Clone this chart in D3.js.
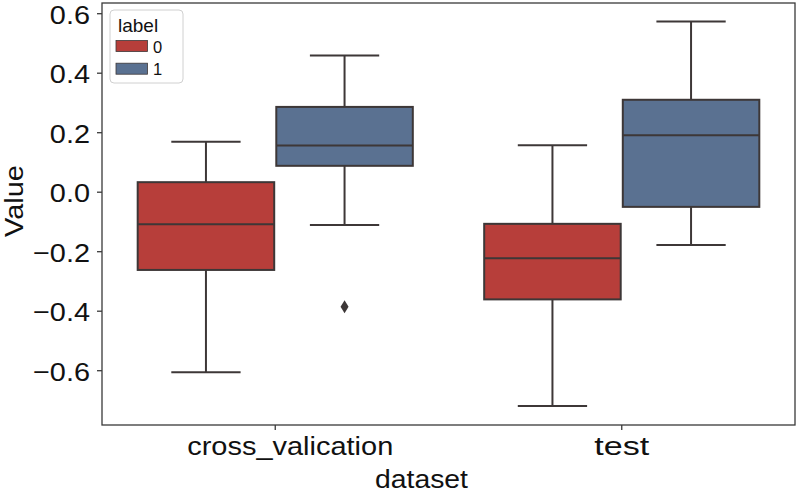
<!DOCTYPE html>
<html><head><meta charset="utf-8">
<script src="https://cdn.jsdelivr.net/npm/d3@7"></script>
<style>body{margin:0;background:#fff}svg{display:block}text{font-family:"Liberation Sans",Arial,Helvetica,sans-serif;fill:#111}</style>
</head><body><svg id="c" width="798" height="496"></svg>
<script>
const categories = ["cross_valication", "test"];
const labels = ["0", "1"];
// box statistics per [category][label]
const whiskerLow = [[-0.607, -0.112], [-0.720, -0.179]];
const q1        = [[-0.263,  0.087], [-0.362, -0.051]];
const median    = [[-0.109,  0.155], [-0.224,  0.190]];
const q3        = [[ 0.032,  0.285], [-0.108,  0.309]];
const whiskerHigh=[[ 0.168,  0.458], [ 0.156,  0.572]];
const outliers  = [[[], [-0.387]], [[], []]];
const yTicks = [-0.6, -0.4, -0.2, 0.0, 0.2, 0.4, 0.6];
const colors = ["#b73e3a", "#5a7191"];

const svg = d3.select("#c");
const L = 102, R = 795, T = 3, B = 425;
const x = d3.scaleBand().domain(categories).range([L, R]);
const xh = d3.scaleBand().domain(labels).range([0, x.bandwidth() * 0.8]);
const y = d3.scaleLinear().domain([-0.7842, 0.6343]).range([B, T]);
const lineC = "#3d3737";

const boxes = [];
categories.forEach((c, i) => labels.forEach((l, j) => boxes.push({c, l, i, j})));

const g = svg.append("g");
boxes.forEach(b => {
  const x0 = x(b.c) + x.bandwidth() * 0.1 + xh(b.l);
  const w = xh.bandwidth();
  const cx = x0 + w / 2;
  const bw = w * 0.985;
  const bx = cx - bw / 2;
  const i = b.i, j = b.j;
  g.append("line").attr("x1", cx).attr("x2", cx).attr("y1", y(whiskerHigh[i][j])).attr("y2", y(q3[i][j]))
    .attr("stroke", lineC).attr("stroke-width", 2);
  g.append("line").attr("x1", cx).attr("x2", cx).attr("y1", y(q1[i][j])).attr("y2", y(whiskerLow[i][j]))
    .attr("stroke", lineC).attr("stroke-width", 2);
  [whiskerHigh[i][j], whiskerLow[i][j]].forEach(v => {
    g.append("line").attr("x1", cx - w / 4).attr("x2", cx + w / 4).attr("y1", y(v)).attr("y2", y(v))
      .attr("stroke", lineC).attr("stroke-width", 2);
  });
  g.append("rect").attr("x", bx).attr("width", bw).attr("y", y(q3[i][j])).attr("height", y(q1[i][j]) - y(q3[i][j]))
    .attr("fill", colors[j]).attr("stroke", lineC).attr("stroke-width", 2);
  g.append("line").attr("x1", bx).attr("x2", bx + bw).attr("y1", y(median[i][j])).attr("y2", y(median[i][j]))
    .attr("stroke", lineC).attr("stroke-width", 2);
  outliers[i][j].forEach(v => {
    const yy = y(v);
    g.append("path").attr("d", `M${cx},${yy - 6.5}L${cx + 4},${yy}L${cx},${yy + 6.5}L${cx - 4},${yy}Z`)
      .attr("fill", lineC);
  });
});

svg.append("rect").attr("x", L).attr("y", T).attr("width", R - L).attr("height", B - T)
  .attr("fill", "none").attr("stroke", "#3a3a3a").attr("stroke-width", 1.3);

function widen(sel, f) {
  sel.each(function() {
    const w = this.getComputedTextLength();
    d3.select(this).attr("textLength", w * f).attr("lengthAdjust", "spacingAndGlyphs");
  });
}

const yAxis = svg.append("g").attr("transform", `translate(${L},0)`)
  .call(d3.axisLeft(y).tickValues(yTicks).tickSize(5).tickPadding(7).tickFormat(d => d3.format(".1f")(d).replace("-", "\u2212")));
yAxis.select(".domain").remove();
yAxis.selectAll("line").attr("stroke", "#3a3a3a").attr("stroke-width", 1.3);
yAxis.selectAll("text").attr("font-size", 26.5).attr("fill", "#111").attr("dy", "0.38em");
widen(yAxis.selectAll("text"), 1.09);

const xAxis = svg.append("g").attr("transform", `translate(0,${B})`)
  .call(d3.axisBottom(x).tickSize(5).tickPadding(6));
xAxis.select(".domain").remove();
xAxis.selectAll("line").attr("stroke", "#3a3a3a").attr("stroke-width", 1.3);
const xTickWidths = {"cross_valication": 206, "test": 55};
const xTickShift = {"cross_valication": 15, "test": 0};
xAxis.selectAll("text").attr("font-size", 26.5).attr("fill", "#111")
  .attr("dx", d => xTickShift[d]).attr("textLength", d => xTickWidths[d]).attr("lengthAdjust", "spacingAndGlyphs");

svg.append("text").attr("x", 421.5).attr("y", 488).attr("text-anchor", "middle").attr("font-size", 26.5)
  .attr("textLength", 93).attr("lengthAdjust", "spacingAndGlyphs").text("dataset");
svg.append("text").attr("transform", "translate(23,201) rotate(-90)").attr("text-anchor", "middle").attr("font-size", 26.5)
  .attr("textLength", 72).attr("lengthAdjust", "spacingAndGlyphs").text("Value");

const lg = svg.append("g");
lg.append("rect").attr("x", 110).attr("y", 10).attr("width", 73).attr("height", 73).attr("rx", 4)
  .attr("fill", "#fff").attr("fill-opacity", 0.85).attr("stroke", "#d0d0d0").attr("stroke-width", 1);
lg.append("text").attr("x", 118).attr("y", 31.5).attr("font-size", 19).text("label");
labels.forEach((l, j) => {
  const yy = 40.5 + j * 22.7;
  lg.append("rect").attr("x", 116).attr("y", yy).attr("width", 31.5).attr("height", 11)
    .attr("fill", colors[j]).attr("stroke", lineC).attr("stroke-width", 0.8);
  lg.append("text").attr("x", 153).attr("y", yy + 12).attr("font-size", 16.5).text(l);
});
</script></body></html>
